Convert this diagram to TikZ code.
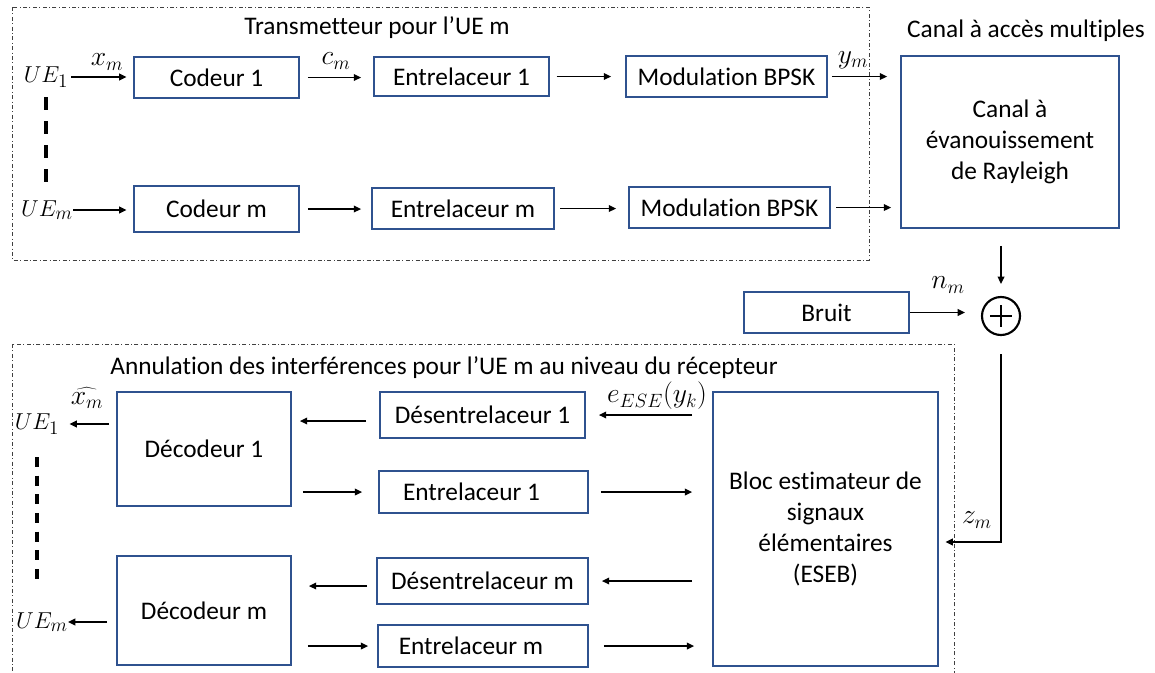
\documentclass[tikz,border=0pt]{standalone}
\usepackage{fontspec}
\setmainfont{Carlito}[Ligatures=NoCommon]
\usetikzlibrary{arrows.meta,calc}
\DeclareMathSizes{21}{21}{14.5}{11}
\DeclareMathSizes{17.5}{17.5}{14}{11}
\definecolor{boxblue}{RGB}{47,82,143}
\newcommand\fs{\fontsize{19}{23.25}\selectfont}
\newcommand\fsm{\fontsize{21}{24}\selectfont}
\newcommand\fsu{\fontsize{17.5}{21}\selectfont}
\tikzset{
  box/.style={draw=boxblue, line width=1.3pt, inner sep=0pt, align=center, font=\fs},
  arr/.style={-{Triangle[length=5.5pt,width=5pt]}, line width=1.2pt},
  frame/.style={draw=black!75, line width=0.75pt, dash pattern=on 3pt off 1.8pt on 0.75pt off 1.8pt},
  lbl/.style={inner sep=0pt, font=\fs},
  mlbl/.style={inner sep=0pt, font=\fsm},
  uelbl/.style={inner sep=0pt, font=\fsu},
  uedash/.style={line width=2.3pt, dash pattern=on 10pt off 8pt},
  plus/.style={circle, draw, line width=1.6pt, minimum size=28.5pt, inner sep=0pt,
    path picture={\draw[line width=1.6pt]
      ([xshift=-8pt]path picture bounding box.center) -- ([xshift=8pt]path picture bounding box.center)
      ([yshift=-8pt]path picture bounding box.center) -- ([yshift=8pt]path picture bounding box.center);}},
}
\newcommand\myblk[6]{\node[box, minimum width={(#4-#2)*0.75pt}, minimum height={(#5-#3)*0.75pt}] (#1) at ({(#2+#4)/2},{(#3+#5)/2}) {#6};}
\begin{document}
\begin{tikzpicture}[x=0.75pt,y=-0.75pt]
\clip (0,0) rectangle (1155,672);
\fill[white] (0,0) rectangle (1155,672);
% frames
\draw[frame] (12,7) rectangle (869,260);
\draw[frame] (12,344) rectangle (954,700);
% titles
\node[lbl] (t1) at (377,28) {Transmetteur pour l’UE m};
\node[lbl] (t2) at (1026,31) {Canal à accès multiples};
\node[lbl] (t3) at (444,368) {Annulation des interférences pour l’UE m au niveau du récepteur};
% blocks
\myblk{cod1}{134}{57}{299}{98}{Codeur 1}
\myblk{ent1}{374}{57}{549}{96}{Entrelaceur 1}
\myblk{mod1}{626}{56}{827}{97}{Modulation BPSK}
\myblk{canal}{901}{56}{1119}{228}{Canal à\\évanouissement\\de Rayleigh}
\myblk{codm}{134}{186}{299}{232}{Codeur m}
\myblk{entm}{372}{188}{554}{229}{Entrelaceur m}
\myblk{modm}{629}{187}{830}{228}{Modulation BPSK}
\myblk{bruit}{744}{292}{909}{333}{Bruit}
\myblk{dec1}{117}{392}{291}{506}{Décodeur 1}
\myblk{des1}{380}{392}{585}{438}{Désentrelaceur 1}
\myblk{enti1}{379}{471}{588}{513}{Entrelaceur 1\hspace*{18pt}}
\myblk{eseb}{713}{392}{938}{666}{Bloc estimateur de\\signaux\\élémentaires\\(ESEB)}
\myblk{decm}{117}{556}{291}{665}{Décodeur m}
\myblk{desm}{377}{558}{588}{604}{Désentrelaceur m}
\myblk{entim}{378}{625}{588}{667}{Entrelaceur m\hspace*{18pt}}
\node[plus] (plus) at (1001,316) {};
% labels
\node[uelbl] (ue1) at (46,77) {$UE_1$};
\node[uelbl] (uem) at (47,210) {$UE_m$};
\node[mlbl] (xm) at (107,62) {$x_m$};
\node[mlbl] (cm) at (336,61) {$c_m$};
\node[mlbl] (ym) at (853,60) {$y_m$};
\node[mlbl] (nm) at (948,285) {$n_m$};
\node[mlbl] (zm) at (977,520) {$z_m$};
\node[mlbl] (eese) at (657,396) {$e_{ESE}(y_k)$};
\node[mlbl] (xhat) at (87,398) {$\widehat{x_m}$};
\node[uelbl] (ue1b) at (37,424) {$UE_1$};
\node[uelbl] (uemb) at (42,622) {$UE_m$};
% dashed vertical lines between users
\coordinate (da1) at (46,97);
\coordinate (da2) at (46,190);
\coordinate (db1) at (37,457);
\coordinate (db2) at (37,581);
\draw[uedash] (da1) -- (da2);
\draw[uedash, dash pattern=on 7.5pt off 6.5pt] (db1) -- (db2);
% transmitter arrows
\draw[arr, shorten <=2pt, shorten >=5pt] (ue1.east) -- (ue1.east -| cod1.west);
\draw[arr, shorten <=6pt, shorten >=9pt] (cod1.east) -- (cod1.east -| ent1.west);
\draw[arr, shorten <=5pt, shorten >=10.5pt] (ent1.east) -- (ent1.east -| mod1.west);
\draw[arr, shorten <=3pt, shorten >=9.75pt] (mod1.east) -- (mod1.east -| canal.west);
\draw[arr, shorten <=0pt, shorten >=5pt] (uem.east) -- (uem.east -| codm.west);
\draw[arr, shorten <=6pt, shorten >=7.5pt] (codm.east) -- (codm.east -| entm.west);
\draw[arr, shorten <=4pt, shorten >=9pt] (entm.east) -- (entm.east -| modm.west);
\draw[arr, shorten <=4pt, shorten >=6.75pt] (modm.east) -- (modm.east -| canal.west);
% channel
\draw[arr, shorten <=12.75pt, shorten >=9pt] (canal.south -| plus.north) -- (plus.north);
\draw[arr, shorten >=12pt] (bruit.east) -- (bruit.east -| plus.west);
\draw[arr, shorten <=13.5pt, shorten >=5pt] (plus.south) |- ([yshift=-9.75pt]eseb.east);
% receiver arrows
\draw[arr, shorten <=5.25pt, shorten >=7.5pt] (ue1b.east -| dec1.west) -- (ue1b.east);
\draw[arr, shorten <=9.75pt, shorten >=6pt] ([yshift=-4.5pt]des1.west) -- ([yshift=-4.5pt]des1.west -| dec1.east);
\draw[arr, shorten <=15pt, shorten >=9.75pt] (eseb.west |- des1.east) -- (des1.east);
\draw[arr, shorten <=8.25pt, shorten >=12pt] (enti1.west -| dec1.east) -- (enti1.west);
\draw[arr, shorten <=9pt, shorten >=15pt] (enti1.east) -- (enti1.east -| eseb.west);
\draw[arr, shorten <=15pt, shorten >=9.75pt] (eseb.west |- desm.east) -- (desm.east);
\draw[arr, shorten <=6.75pt, shorten >=12.75pt] ([yshift=-3.75pt]desm.west) -- ([yshift=-3.75pt]desm.west -| decm.east);
\draw[arr, shorten <=12pt, shorten >=6.75pt] (entim.west -| decm.east) -- (entim.west);
\draw[arr, shorten <=11.25pt, shorten >=13.5pt] (entim.east) -- (entim.east -| eseb.west);
\draw[arr, shorten <=6.75pt, shorten >=0pt] (uemb.east -| decm.west) -- (uemb.east);
\end{tikzpicture}
\end{document}
